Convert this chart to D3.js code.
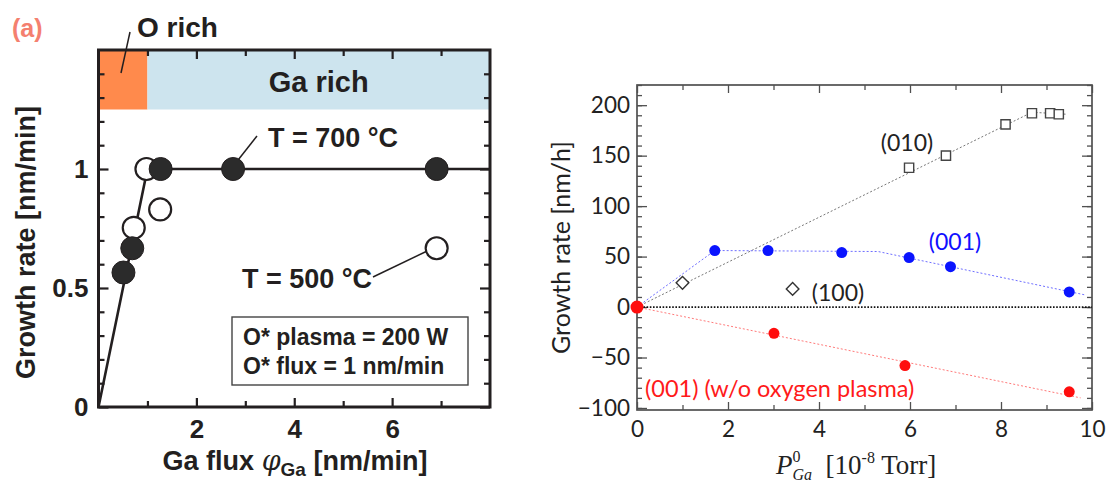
<!DOCTYPE html>
<html>
<head>
<meta charset="utf-8">
<script src="https://cdn.jsdelivr.net/npm/d3@7"></script>
<style>
  body { margin: 0; background: #fff; }
  svg { display: block; }
  .lp text { font-family: "Liberation Sans", Arial, sans-serif; font-weight: bold; fill: #231f20; }
  .rp text { font-family: Lato, "Open Sans", sans-serif; fill: #222; }
</style>
</head>
<body>
<svg id="chart" width="1108" height="485"></svg>
<script>
// ---- panel (a): growth rate vs Ga flux ----
const fluxDomain = [0, 8];
const rateDomain = [0, 1.5];
const fluxMajor = [2, 4, 6];
const fluxMinor = [1, 3, 5, 7];
const rateMajor = [0, 0.5, 1];
const rateMinor = [0.1, 0.2, 0.3, 0.4, 0.6, 0.7, 0.8, 0.9, 1.1, 1.2, 1.3, 1.4];
const t700 = [[0.51, 0.565], [0.69, 0.667], [1.27, 1.0], [2.75, 1.0], [6.91, 1.0]];
const t500 = [[0.72, 0.753], [0.98, 1.0], [1.26, 0.83], [6.91, 0.667]];
const guideLine = [[0, 0], [1, 1], [8, 1]];
const regimes = [
  { name: "O rich", from: 0, to: 1, color: "#ff8a4c" },
  { name: "Ga rich", from: 1, to: 8, color: "#cde4ee" }
];
const regimeBand = [1.25, 1.5];

// ---- panel (b): growth rate vs Ga pressure ----
const pDomain = [0, 10];
const gDomain = [-102, 220];
const pTicks = [0, 2, 4, 6, 8, 10];
const pMinor = [1, 3, 5, 7, 9];
const gTicks = [-100, -50, 0, 50, 100, 150, 200];
const gMinor = d3.range(-100, 221, 10);
const s010 = [[5.98, 138], [6.79, 150], [8.10, 181], [8.68, 192], [9.08, 192], [9.27, 191]];
const s010Line = [[0, 0], [8.68, 193], [9.45, 191]];
const s100 = [[1.0, 24], [3.42, 18]];
const s001 = [[1.71, 56], [2.88, 56], [4.5, 54], [5.98, 49], [6.89, 40], [9.5, 15]];
const s001Line = [[0, 0], [1.71, 56], [5.3, 55], [9.85, 12]];
const sNoPlasma = [[0, 0], [3.01, -26], [5.89, -58], [9.5, -84]];
const sNoPlasmaLine = [[0, 0], [9.75, -90]];
const zeroLine = [[0, 0], [10, 0]];

const svg = d3.select("#chart");

// ================= left panel =================
const L = { left: 98.5, right: 490, top: 50, bottom: 407 };
const lx = d3.scaleLinear().domain(fluxDomain).range([L.left, L.right]);
const ly = d3.scaleLinear().domain(rateDomain).range([L.bottom, L.top]);
const lp = svg.append("g").attr("class", "lp");

lp.selectAll("rect.regime")
  .data(regimes)
  .enter().append("rect")
  .attr("class", "regime")
  .attr("x", d => lx(d.from))
  .attr("y", ly(regimeBand[1]))
  .attr("width", d => lx(d.to) - lx(d.from))
  .attr("height", ly(regimeBand[0]) - ly(regimeBand[1]))
  .attr("fill", d => d.color);

function styleAxis(g, color, width) {
  g.select(".domain").remove();
  g.selectAll(".tick line").attr("stroke", color).attr("stroke-width", width);
}

// ticks, inward on all four sides
lp.append("g").attr("transform", `translate(0,${L.bottom})`)
  .call(d3.axisBottom(lx).tickValues(fluxMajor).tickSize(-9).tickPadding(13))
  .call(g => styleAxis(g, "#231f20", 2.2))
  .selectAll("text").attr("font-size", 26).attr("fill", "#231f20")
  .attr("font-family", "Liberation Sans, Arial, sans-serif").attr("font-weight", "bold");
lp.append("g").attr("transform", `translate(0,${L.bottom})`)
  .call(d3.axisBottom(lx).tickValues(fluxMinor).tickSize(-6).tickFormat(""))
  .call(g => styleAxis(g, "#231f20", 2.2));
lp.append("g").attr("transform", `translate(0,${L.top})`)
  .call(d3.axisTop(lx).tickValues(fluxMajor).tickSize(-9).tickFormat(""))
  .call(g => styleAxis(g, "#231f20", 2.2));
lp.append("g").attr("transform", `translate(0,${L.top})`)
  .call(d3.axisTop(lx).tickValues(fluxMinor).tickSize(-6).tickFormat(""))
  .call(g => styleAxis(g, "#231f20", 2.2));

lp.append("g").attr("transform", `translate(${L.left},0)`)
  .call(d3.axisLeft(ly).tickValues(rateMajor).tickSize(-10).tickPadding(10)
    .tickFormat(d => d === 0.5 ? "0.5" : d3.format("d")(d)))
  .call(g => styleAxis(g, "#231f20", 2.2))
  .selectAll("text").attr("font-size", 26).attr("fill", "#231f20")
  .attr("font-family", "Liberation Sans, Arial, sans-serif").attr("font-weight", "bold");
lp.append("g").attr("transform", `translate(${L.left},0)`)
  .call(d3.axisLeft(ly).tickValues(rateMinor).tickSize(-6).tickFormat(""))
  .call(g => styleAxis(g, "#231f20", 2.2));
lp.append("g").attr("transform", `translate(${L.right},0)`)
  .call(d3.axisRight(ly).tickValues(rateMajor).tickSize(-10).tickFormat(""))
  .call(g => styleAxis(g, "#231f20", 2.2));
lp.append("g").attr("transform", `translate(${L.right},0)`)
  .call(d3.axisRight(ly).tickValues(rateMinor).tickSize(-6).tickFormat(""))
  .call(g => styleAxis(g, "#231f20", 2.2));

lp.append("rect")
  .attr("x", L.left).attr("y", L.top)
  .attr("width", L.right - L.left).attr("height", L.bottom - L.top)
  .attr("fill", "none").attr("stroke", "#231f20").attr("stroke-width", 3);

// guide line through the data
lp.append("path")
  .datum(guideLine)
  .attr("d", d3.line().x(d => lx(d[0])).y(d => ly(d[1])))
  .attr("fill", "none").attr("stroke", "#231f20").attr("stroke-width", 2.6);

// callout lines
lp.append("line").attr("x1", lx(2.75) + 5).attr("y1", ly(1) - 9).attr("x2", 257).attr("y2", 136)
  .attr("stroke", "#231f20").attr("stroke-width", 1.5);
lp.append("line").attr("x1", lx(6.91) - 10).attr("y1", ly(0.667) + 3).attr("x2", 373).attr("y2", 277)
  .attr("stroke", "#231f20").attr("stroke-width", 1.5);
lp.append("line").attr("x1", 130).attr("y1", 32).attr("x2", 121).attr("y2", 73)
  .attr("stroke", "#231f20").attr("stroke-width", 1.5);

lp.selectAll("circle.t500")
  .data(t500)
  .enter().append("circle")
  .attr("class", "t500")
  .attr("cx", d => lx(d[0])).attr("cy", d => ly(d[1])).attr("r", 11)
  .attr("fill", "#fff").attr("stroke", "#231f20").attr("stroke-width", 2.2);
lp.selectAll("circle.t700")
  .data(t700)
  .enter().append("circle")
  .attr("class", "t700")
  .attr("cx", d => lx(d[0])).attr("cy", d => ly(d[1])).attr("r", 11.5)
  .attr("fill", "#2b2b2b").attr("stroke", "#231f20").attr("stroke-width", 1);

lp.append("text").attr("x", 137).attr("y", 37).attr("font-size", 28).text("O rich");
lp.append("text").attr("x", (lx(1) + lx(8)) / 2).attr("y", 92).attr("text-anchor", "middle")
  .attr("font-size", 29).text("Ga rich");
lp.append("text").attr("x", 268).attr("y", 147).attr("font-size", 27).text("T = 700 °C");
lp.append("text").attr("x", 242).attr("y", 288).attr("font-size", 27).text("T = 500 °C");

lp.append("rect").attr("x", 232).attr("y", 317).attr("width", 236).attr("height", 68)
  .attr("fill", "#fff").attr("stroke", "#444").attr("stroke-width", 1.4);
lp.append("text").attr("x", 243).attr("y", 345).attr("font-size", 23).text("O* plasma = 200 W");
lp.append("text").attr("x", 243).attr("y", 374).attr("font-size", 23).text("O* flux = 1 nm/min");

lp.append("text").attr("x", 12).attr("y", 37).attr("font-size", 25)
  .style("fill", "#f4806f").text("(a)");

const lxLabel = lp.append("text").attr("x", 295).attr("y", 470).attr("text-anchor", "middle").attr("font-size", 27);
lxLabel.append("tspan").text("Ga flux ");
lxLabel.append("tspan").attr("font-style", "italic").attr("font-family", "DejaVu Serif, serif")
  .style("font-weight", "normal").text("φ");
lxLabel.append("tspan").attr("font-size", 19).attr("dy", 6).text("Ga");
lxLabel.append("tspan").attr("dy", -6).text(" [nm/min]");

lp.append("text")
  .attr("transform", `translate(35,${(L.top + L.bottom) / 2 + 14}) rotate(-90)`)
  .attr("text-anchor", "middle").attr("font-size", 27)
  .text("Growth rate [nm/min]");

// ================= right panel =================
const R = { left: 637, right: 1092, top: 85, bottom: 410 };
const rx = d3.scaleLinear().domain(pDomain).range([R.left, R.right]);
const ry = d3.scaleLinear().domain(gDomain).range([R.bottom, R.top]);
const rp = svg.append("g").attr("class", "rp");
const frameColor = "#505050";

function rText(sel) {
  sel.selectAll("text").attr("font-size", 22.5).attr("fill", "#1a1a1a")
    .attr("font-family", "Lato, 'Open Sans', sans-serif");
}

rp.append("g").attr("transform", `translate(0,${R.bottom})`)
  .call(d3.axisBottom(rx).tickValues(pTicks).tickSize(-8).tickPadding(11))
  .call(g => styleAxis(g, frameColor, 1.3)).call(rText);
rp.append("g").attr("transform", `translate(0,${R.bottom})`)
  .call(d3.axisBottom(rx).tickValues(pMinor).tickSize(-5).tickFormat(""))
  .call(g => styleAxis(g, frameColor, 1.3));
rp.append("g").attr("transform", `translate(0,${R.top})`)
  .call(d3.axisTop(rx).tickValues(pTicks).tickSize(-8).tickFormat(""))
  .call(g => styleAxis(g, frameColor, 1.3));
rp.append("g").attr("transform", `translate(0,${R.top})`)
  .call(d3.axisTop(rx).tickValues(pMinor).tickSize(-5).tickFormat(""))
  .call(g => styleAxis(g, frameColor, 1.3));

rp.append("g").attr("transform", `translate(${R.left},0)`)
  .call(d3.axisLeft(ry).tickValues(gTicks).tickSize(-10).tickPadding(7))
  .call(g => styleAxis(g, frameColor, 1.3)).call(rText);
rp.append("g").attr("transform", `translate(${R.left},0)`)
  .call(d3.axisLeft(ry).tickValues(gMinor).tickSize(-5).tickFormat(""))
  .call(g => styleAxis(g, frameColor, 1.3));
rp.append("g").attr("transform", `translate(${R.right},0)`)
  .call(d3.axisRight(ry).tickValues(gTicks).tickSize(-10).tickFormat(""))
  .call(g => styleAxis(g, frameColor, 1.3));
rp.append("g").attr("transform", `translate(${R.right},0)`)
  .call(d3.axisRight(ry).tickValues(gMinor).tickSize(-5).tickFormat(""))
  .call(g => styleAxis(g, frameColor, 1.3));

rp.append("rect")
  .attr("x", R.left).attr("y", R.top)
  .attr("width", R.right - R.left).attr("height", R.bottom - R.top)
  .attr("fill", "none").attr("stroke", frameColor).attr("stroke-width", 1.7);

const rline = d3.line().x(d => rx(d[0])).y(d => ry(d[1]));
const dotted = [
  { data: zeroLine, color: "#111", width: 1.8, dash: "1.6,1.6" },
  { data: s010Line, color: "#777", width: 1, dash: "2,2" },
  { data: s001Line, color: "#6f6fff", width: 1, dash: "2,2" },
  { data: sNoPlasmaLine, color: "#ff7a7a", width: 1, dash: "2,2" }
];
rp.selectAll("path.fit")
  .data(dotted)
  .enter().append("path")
  .attr("class", "fit")
  .attr("d", d => rline(d.data))
  .attr("fill", "none")
  .attr("stroke", d => d.color)
  .attr("stroke-width", d => d.width)
  .attr("stroke-dasharray", d => d.dash);

rp.selectAll("path.sq")
  .data(s010)
  .enter().append("path")
  .attr("class", "sq")
  .attr("transform", d => `translate(${rx(d[0])},${ry(d[1])})`)
  .attr("d", d3.symbol().type(d3.symbolSquare).size(85))
  .attr("fill", "#fff").attr("stroke", "#444").attr("stroke-width", 1.4);

rp.selectAll("path.dia")
  .data(s100)
  .enter().append("path")
  .attr("class", "dia")
  .attr("transform", d => `translate(${rx(d[0])},${ry(d[1])}) rotate(45)`)
  .attr("d", d3.symbol().type(d3.symbolSquare).size(80))
  .attr("fill", "#fff").attr("stroke", "#333").attr("stroke-width", 1.4);

rp.selectAll("circle.b")
  .data(s001)
  .enter().append("circle")
  .attr("class", "b")
  .attr("cx", d => rx(d[0])).attr("cy", d => ry(d[1])).attr("r", 5.5)
  .attr("fill", "#0a14ff");

rp.selectAll("circle.r")
  .data(sNoPlasma)
  .enter().append("circle")
  .attr("class", "r")
  .attr("cx", d => rx(d[0])).attr("cy", d => ry(d[1]))
  .attr("r", (d, i) => i === 0 ? 6.5 : 5.5)
  .attr("fill", "#ff0d0d");

rp.append("text").attr("x", 907).attr("y", 151).attr("text-anchor", "middle").attr("font-size", 23).text("(010)");
rp.append("text").attr("x", 955).attr("y", 250).attr("text-anchor", "middle").attr("font-size", 23)
  .style("fill", "#1010ff").text("(001)");
rp.append("text").attr("x", 838).attr("y", 301).attr("text-anchor", "middle").attr("font-size", 23).text("(100)");
rp.append("text").attr("x", 645).attr("y", 397).attr("font-size", 23.5)
  .style("fill", "#ff1a1a").text("(001) (w/o oxygen plasma)");

rp.append("text")
  .attr("transform", `translate(570,${(R.top + R.bottom) / 2}) rotate(-90)`)
  .attr("text-anchor", "middle").attr("font-size", 25)
  .text("Growth rate [nm/h]");

const rxLabel = rp.append("text").attr("x", 776).attr("y", 474)
  .style("font-family", "'Liberation Serif', 'DejaVu Serif', serif").attr("font-size", 27);
rxLabel.append("tspan").attr("font-style", "italic").text("P");
rxLabel.append("tspan").attr("font-size", 16).attr("dy", -12).text("0");
rxLabel.append("tspan").attr("font-size", 16).attr("font-style", "italic").attr("dx", -8).attr("dy", 18).text("Ga");
rxLabel.append("tspan").attr("dy", -6).text("\u00a0\u00a0[10");
rxLabel.append("tspan").attr("font-size", 16).attr("dy", -11).text("-8");
rxLabel.append("tspan").attr("dy", 11).text(" Torr]");
</script>
</body>
</html>
